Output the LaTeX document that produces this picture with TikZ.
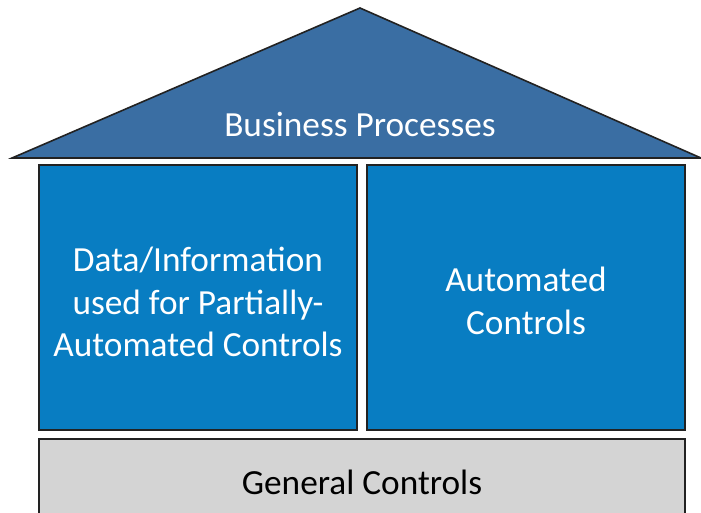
\documentclass[tikz,border=0pt]{standalone}
\usepackage{fontspec}
\setmainfont{Carlito}
\definecolor{roofblue}{HTML}{3A6EA3}
\definecolor{wallblue}{HTML}{087DC2}
\definecolor{basegray}{HTML}{D4D4D4}
\definecolor{edgegray}{HTML}{222222}
\begin{document}
\begin{tikzpicture}[x=1pt,y=-1pt,
  part/.style={draw=edgegray,line width=1.6pt,line join=miter},
  label/.style={text=white,font=\fontsize{35.3}{42.5}\selectfont,align=center},
  darklabel/.style={text=black,font=\fontsize{35.3}{42.5}\selectfont,align=center}]
\useasboundingbox (0,0) rectangle (701,512);
\begin{scope}
\clip (0,0) rectangle (701,512);
% roof
\filldraw[part,fill=roofblue] (12,158) -- (360,8) -- (701,158) -- cycle;
% two walls
\filldraw[part,fill=wallblue] (39,165) rectangle (357,430);
\filldraw[part,fill=wallblue] (367,165) rectangle (685,430);
% foundation
\filldraw[part,fill=basegray] (39,439) rectangle (685,530);
\end{scope}
\node[label] (roof) at (360,124) {Business Processes};
\node[label] (left) at (198,302) {Data/Information\\used for Partially-\\Automated Controls};
\node[label] (right) at (526,301) {Automated\\Controls};
\node[darklabel] (base) at (362,482) {General Controls};
\end{tikzpicture}
\end{document}
